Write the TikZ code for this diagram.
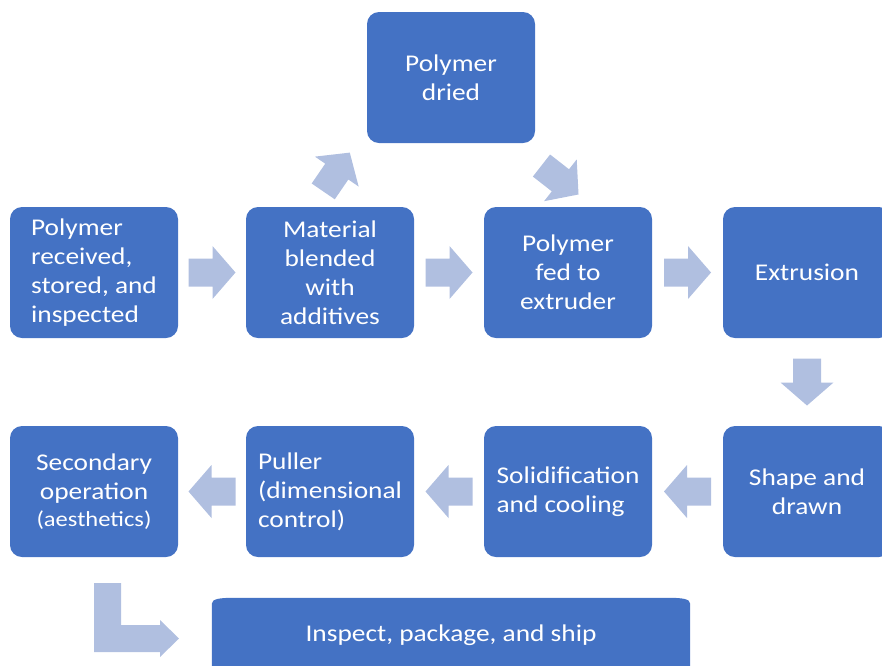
\documentclass[tikz,border=0pt]{standalone}
\usepackage{fontspec}
\setmainfont{Carlito}[FakeStretch=1.14]
\usetikzlibrary{calc,backgrounds}
\definecolor{boxc}{RGB}{68,114,196}
\definecolor{arrowc}{RGB}{176,191,224}
\tikzset{
  box/.style={fill=boxc, rounded corners=12pt, text=white, minimum width=168pt, minimum height=131pt,
    inner sep=0pt, font=\fontsize{24}{29}\selectfont, align=center},
  barrow/.pic={\fill[arrowc] (-23.5,-14) -- (0.5,-14) -- (0.5,-26.5) -- (23.5,0) -- (0.5,26.5) -- (0.5,14) -- (-23.5,14) -- cycle;}
}
\begin{document}
\begin{tikzpicture}[x=1pt,y=-1pt]
\useasboundingbox (0,0) rectangle (882,665);
\begin{scope}
\clip (0,0) rectangle (882,665);
% row 1
\node[box, align=left] (b1) at (94,272.5) {Polymer\\received,\\stored, and\\inspected};
\node[box] (b2) at (330,272.5) {Material\\blended\\with\\additives};
\node[box] (b3) at (568,272.5) {Polymer\\fed to\\extruder};
\node[box] (b4) at (807,272.5) {Extrusion};
\node[box] (top) at (451,77.5) {Polymer\\dried};
% row 2
\node[box] (b5) at (807,491.5) {Shape and\\drawn};
\node[box, align=left] (b6) at (568,491.5) {Solidification\\and cooling};
\node[box, align=left] (b7) at (330,491.5) {Puller\\(dimensional\\control)};
\node[box] (b8) at (94,491.5) {Secondary\\operation\\[-2pt]{\fontsize{21.5}{26}\selectfont (aesthetics)}};
% bottom
\node[text=white, font=\fontsize{24}{29}\selectfont, minimum width=478pt, minimum height=74pt, inner sep=0pt] (ship) at (451,635) {Inspect, package, and ship};
\begin{scope}[on background layer]
\fill[boxc] (ship.south west) -- ($(ship.north west)+(0,6)$) .. controls ($(ship.north west)+(0,1)$) and ($(ship.north west)+(8,0)$) .. ($(ship.north west)+(22,0)$)
  -- ($(ship.north east)+(-22,0)$) .. controls ($(ship.north east)+(-8,0)$) and ($(ship.north east)+(0,1)$) .. ($(ship.north east)+(0,6)$)
  -- (ship.south east) -- cycle;
\end{scope}
% arrows
\pic at ($(b1.east)!0.5!(b2.west)$) {barrow};
\pic at ($(b2.east)!0.5!(b3.west)$) {barrow};
\pic at ($(b3.east)!0.5!(b4.west)$) {barrow};
\pic[rotate=-90] at ($(b4.south)!0.5!(b5.north)$) {barrow};
\pic[rotate=180] at ($(b5.west)!0.5!(b6.east)$) {barrow};
\pic[rotate=180] at ($(b6.west)!0.5!(b7.east)$) {barrow};
\pic[rotate=180] at ($(b7.west)!0.5!(b8.east)$) {barrow};
\coordinate (up) at (336.5,172);
\coordinate (dn) at (560,180);
\pic[rotate=55.6] at (up) {barrow};
\pic[rotate=-38] at (dn) {barrow};
% bent arrow
\coordinate (bend) at (94,583);
\fill[arrowc] (bend) -- ++(27,0) -- ++(0,42) -- ++(39,0) -- ++(0,-5) -- ++(19,18.5) -- ++(-19,18.5) -- ++(0,-5) -- ++(-66,0) -- cycle;
\end{scope}
\end{tikzpicture}
\end{document}
